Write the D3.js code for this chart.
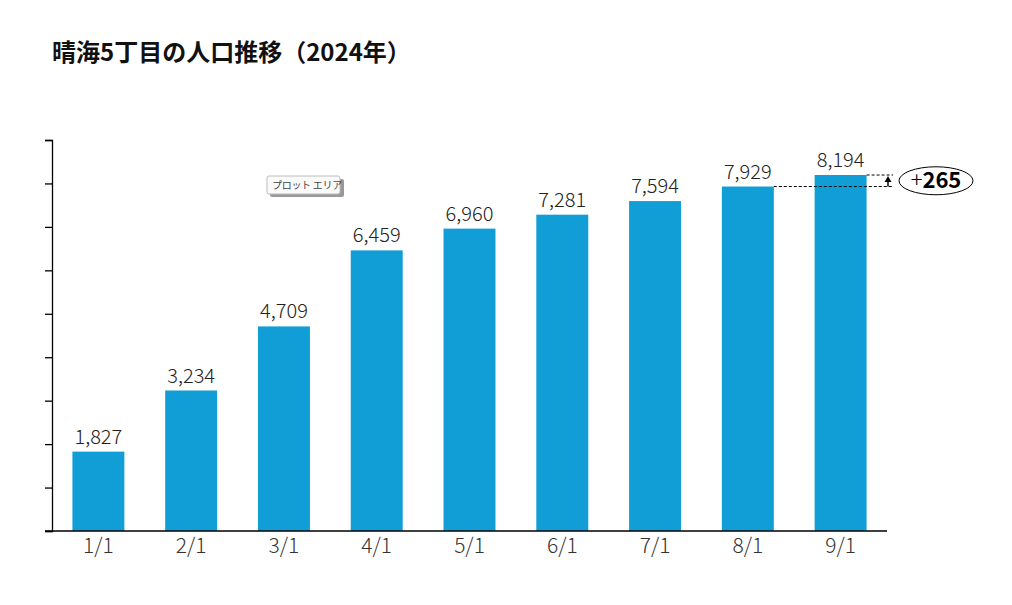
<!DOCTYPE html>
<html><head><meta charset="utf-8">
<script src="https://cdn.jsdelivr.net/npm/d3@7"></script>
<style>body{margin:0;background:#fff}svg{display:block}</style>
</head><body>
<svg id="c" width="1012" height="605"></svg>
<script>
const categories = ["1/1","2/1","3/1","4/1","5/1","6/1","7/1","8/1","9/1"];
const values = [1827,3234,4709,6459,6960,7281,7594,7929,8194];
const yTicks = [0,1000,2000,3000,4000,5000,6000,7000,8000,9000];
const title = "晴海5丁目の人口推移（2024年）";
const diffLabel = "265";

(function () {
const svg = d3.select("#c");
const font = "'Noto Sans CJK JP','Noto Sans',sans-serif";
const pl = 52, pr = 887, pt = 140, pb = 531;
const x = d3.scaleBand().domain(categories).range([pl, pr]).paddingInner(0.44).paddingOuter(0.22);
const y = d3.scaleLinear().domain([0, 9000]).range([pb, pt]);

svg.append("text").attr("x", 52).attr("y", 61).attr("font-family", font)
  .attr("font-size", 24).attr("font-weight", "bold").attr("fill", "#111").text(title);

// y axis
const ya = svg.append("g").attr("transform", `translate(${pl},0)`)
  .call(d3.axisLeft(y).tickValues(yTicks).tickSize(7).tickFormat(""));
ya.select(".domain").attr("stroke", "#000").attr("stroke-width", 1.3);
ya.selectAll(".tick line").attr("stroke", "#000").attr("stroke-width", 1.3);

// bars
svg.append("g").selectAll("rect").data(values).join("rect")
  .attr("x", (d, i) => x(categories[i])).attr("width", x.bandwidth())
  .attr("y", d => y(d)).attr("height", d => y(0) - y(d)).attr("fill", "#119ED6");

// x axis
const xa = svg.append("g").attr("transform", `translate(0,${pb})`)
  .call(d3.axisBottom(x).tickSize(0).tickPadding(7));
xa.select(".domain").attr("d", `M45,0H${pr}`).attr("stroke", "#000").attr("stroke-width", 1.3);
xa.selectAll("text").attr("font-family", font).attr("font-size", 21).attr("font-weight", 300).attr("fill", "#333");

// value labels
svg.append("g").selectAll("text").data(values).join("text")
  .attr("x", (d, i) => x(categories[i]) + x.bandwidth() / 2).attr("y", d => y(d) - 8)
  .attr("text-anchor", "middle").attr("font-family", font).attr("font-size", 20).attr("font-weight", 300)
  .attr("fill", "#222").text(d => d3.format(",")(d));

// difference annotation
const n = values.length;
const yA = y(values[n - 2]), yB = y(values[n - 1]);
const endX = 893, arrowX = 888;
svg.append("line").attr("x1", x(categories[n - 2]) + x.bandwidth()).attr("x2", endX)
  .attr("y1", yA).attr("y2", yA).attr("stroke", "#000").attr("stroke-dasharray", "3,2");
svg.append("line").attr("x1", x(categories[n - 1]) + x.bandwidth()).attr("x2", endX)
  .attr("y1", yB).attr("y2", yB).attr("stroke", "#000").attr("stroke-dasharray", "3,2");
svg.append("line").attr("x1", arrowX).attr("x2", arrowX).attr("y1", yA).attr("y2", yB + 5)
  .attr("stroke", "#000").attr("stroke-width", 1.5);
svg.append("path").attr("d", `M${arrowX},${yB + 1}L${arrowX - 3.5},${yB + 7}L${arrowX + 3.5},${yB + 7}Z`).attr("fill", "#000");
const cx = 936, cy = (yA + yB) / 2;
svg.append("ellipse").attr("cx", cx).attr("cy", cy).attr("rx", 37).attr("ry", 14)
  .attr("fill", "#fff").attr("stroke", "#000").attr("stroke-width", 1);
const t = svg.append("text").attr("x", cx).attr("y", cy + 7.5).attr("text-anchor", "middle")
  .attr("font-family", font).attr("font-size", 22).attr("fill", "#000");
t.append("tspan").attr("font-weight", 300).text("+");
t.append("tspan").attr("font-weight", "bold").text(diffLabel);

// tooltip artifact
const tip = svg.append("g").attr("transform", "translate(267,176)");
tip.append("rect").attr("x", 3).attr("y", 3).attr("width", 74).attr("height", 18).attr("fill", "#999").attr("rx", 2);
tip.append("rect").attr("width", 73).attr("height", 18).attr("fill", "#fafafa").attr("stroke", "#bbb").attr("rx", 2);
tip.append("text").attr("x", 5).attr("y", 13).attr("font-family", font).attr("font-size", 10)
  .attr("letter-spacing", -0.3).attr("fill", "#444").text("プロット エリア");
})();
</script>
</body></html>
